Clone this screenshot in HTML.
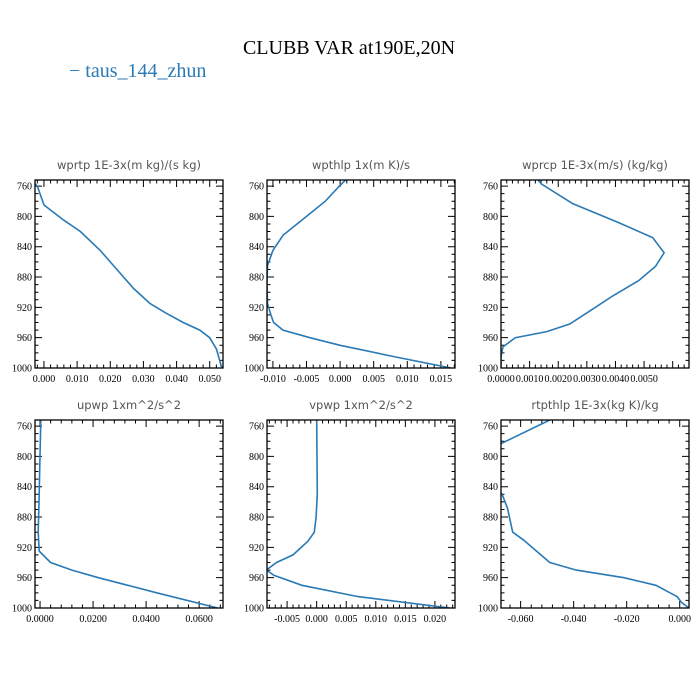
<!DOCTYPE html>
<html><head><meta charset="utf-8"><style>
html,body{margin:0;padding:0;background:#fff;}
svg{display:block;}
.tl{font-family:"Liberation Serif",serif;font-size:10px;fill:#000;}
.pt{font-family:"DejaVu Sans",sans-serif;font-size:11.5px;fill:#555;}
</style></head><body>
<svg id="c" width="700" height="700" xmlns="http://www.w3.org/2000/svg">
<text x="349" y="54" text-anchor="middle" font-family="Liberation Serif, serif" font-size="20" fill="#000">CLUBB VAR at190E,20N</text>
<text x="69" y="77" font-family="Liberation Serif, serif" font-size="20" fill="#2a7ab5">− taus_144_zhun</text>
</svg>
<script>
const pressureTicks=[760,800,840,880,920,960,1000];
const titles=["wprtp  1E-3x(m kg)/(s kg)","wpthlp  1x(m K)/s","wprcp  1E-3x(m/s) (kg/kg)","upwp  1xm^2/s^2","vpwp  1xm^2/s^2","rtpthlp  1E-3x(kg K)/kg"];
const p1P=[757,760,785,805,820,845,870,895,915,928,940,950,960,975,990,998,1000];
const p1V=[-0.0027,-0.002,0.000,0.006,0.011,0.017,0.022,0.027,0.032,0.037,0.042,0.047,0.050,0.052,0.053,0.0535,0.054];
const p2P=[752,760,780,800,825,845,865,890,915,930,940,950,960,970,985,1000];
const p2V=[0.0008,-0.0001,-0.0022,-0.005,-0.0085,-0.010,-0.0108,-0.0109,-0.0108,-0.0103,-0.0099,-0.0085,-0.0045,0.000,0.008,0.0165];
const p3P=[752,757,783,808,828,848,866,885,905,925,942,952,960,972,985,1000];
const p3V=[0.0013,0.0014,0.0025,0.0041,0.0053,0.0057,0.0054,0.0048,0.0039,0.0031,0.0024,0.0016,0.0005,0.00007,0.0,0.0];
const p4P=[752,800,860,900,925,940,950,960,980,1000];
const p4V=[0.0003,0.0,-0.0004,-0.0007,-0.0003,0.004,0.012,0.022,0.044,0.067];
const p5P=[752,850,880,900,912,930,940,950,957,970,985,1000];
const p5V=[0.0,0.0001,-0.0001,-0.0004,-0.0015,-0.004,-0.0068,-0.0085,-0.0072,-0.0025,0.007,0.0225];
const p6P=[752,785,805,830,850,868,900,910,925,940,950,960,970,985,993,1000];
const p6V=[-0.049,-0.0685,-0.0735,-0.0715,-0.067,-0.065,-0.063,-0.059,-0.054,-0.049,-0.039,-0.021,-0.009,-0.001,0.0008,0.0035];
const xTicks=[[0,0.01,0.02,0.03,0.04,0.05],[-0.01,-0.005,0,0.005,0.01,0.015],[0,0.001,0.002,0.003,0.004,0.005],[0,0.02,0.04,0.06],[-0.005,0,0.005,0.01,0.015,0.02],[-0.06,-0.04,-0.02,0]];
const xLabels=[["0.000","0.010","0.020","0.030","0.040","0.050"],["-0.010","-0.005","0.000","0.005","0.010","0.015"],["0.0000","0.0010","0.0020","0.0030","0.0040","0.0050"],["0.0000","0.0200","0.0400","0.0600"],["-0.005","0.000","0.005","0.010","0.015","0.020"],["-0.060","-0.040","-0.020","0.000"]];
const xMin=[-0.0027,-0.01088,0,-0.0019,-0.0084,-0.0674];
const xMax=[0.0540,0.0171,0.00657,0.069,0.0234,0.0035];
const allP=[p1P,p2P,p3P,p4P,p5P,p6P];
const allV=[p1V,p2V,p3V,p4V,p5V,p6V];
const lefts=[35,267,501,35,267,501],tops=[180,180,180,420,420,420];
const W=188,H=188,pTop=752,pBot=1000;
const svg=document.getElementById('c');
const NS="http://www.w3.org/2000/svg";
function mk(t,a){const e=document.createElementNS(NS,t);for(const k in a)e.setAttribute(k,a[k]);return e;}
for(let i=0;i<6;i++){
  const L=lefts[i],T=tops[i];
  const sx=v=>L+(v-xMin[i])/(xMax[i]-xMin[i])*W;
  const sy=p=>T+(p-pTop)/(pBot-pTop)*H;
  const g=mk('g',{});
  
  
  svg.appendChild(g);
  const tt=mk('text',{x:L+W/2,y:T-11,'text-anchor':'middle',class:'pt'});
  
  
  tt.textContent=titles[i];g.appendChild(tt);
  let d='';
  for(let p=760;p<=1000;p+=10){const y=sy(p),len=(p%40===0)?7:3.5;d+=`M${L},${y}h${len}M${L+W},${y}h${-len}`;}
  const tk=xTicks[i],step=tk[1]-tk[0];
  for(let k=-10;k<60;k++){const v=tk[0]+k*step/5;if(v<xMin[i]-1e-9||v>xMax[i]+1e-9)continue;const x=sx(v),len=(k%5===0)?7:3.5;d+=`M${x},${T+H}v${-len}M${x},${T}v${len}`;}
  const ticks=mk('path',{d:d,stroke:'#000','stroke-width':1,fill:'none'});
  
  
  g.appendChild(ticks);
  pressureTicks.forEach(p=>{const t=mk('text',{x:L-3,y:sy(p)+3.5,'text-anchor':'end',class:'tl'});
    
    
    t.textContent=p;g.appendChild(t);});
  tk.forEach((v,j)=>{const t=mk('text',{x:sx(v),y:T+H+14,'text-anchor':'middle',class:'tl'});
    
    
    t.textContent=xLabels[i][j];g.appendChild(t);});
  const pts=allP[i].map((p,j)=>sx(allV[i][j]).toFixed(1)+','+sy(p).toFixed(1)).join(' ');
  const cp=mk('clipPath',{id:'cl'+i});cp.appendChild(mk('rect',{x:L,y:T,width:W,height:H}));g.appendChild(cp);
  const ln=mk('polyline',{points:pts,fill:'none',stroke:'#2a7ab5','stroke-width':1.6,'clip-path':`url(#cl${i})`});
  
  
  g.appendChild(ln);
  const fr=mk('rect',{x:L,y:T,width:W,height:H,fill:'none',stroke:'#000','stroke-width':1.3});
  
  
  g.appendChild(fr);
}
</script>
</body></html>
